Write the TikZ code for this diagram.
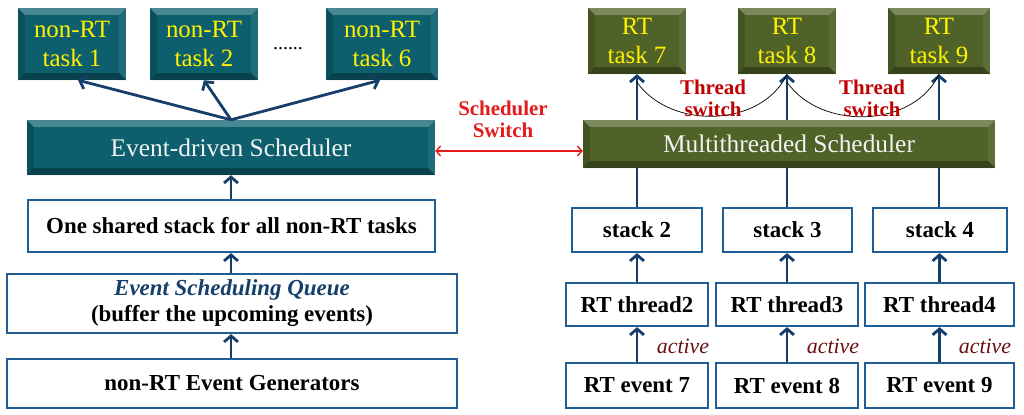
\documentclass[tikz,border=0pt]{standalone}
\usepackage{fontspec}
\setmainfont{Liberation Serif}
\usepackage{tikz}
\usetikzlibrary{arrows.meta}
\definecolor{tealColor}{HTML}{0D5F6E}
\definecolor{greenColor}{HTML}{4F6228}
\definecolor{frameColor}{HTML}{1F5F96}
\definecolor{arrowColor}{HTML}{163E6A}
\definecolor{switchColor}{HTML}{E31B1B}
\definecolor{threadColor}{HTML}{C00000}
\definecolor{activeColor}{HTML}{6B0F0F}

\begin{document}
\begin{tikzpicture}[x=1bp,y=-1bp]

          \tikzstyle{bevel} = [path picture={
            \coordinate (pa) at (path picture bounding box.north west);
            \coordinate (pb) at (path picture bounding box.north east);
            \coordinate (pc) at (path picture bounding box.south east);
            \coordinate (pd) at (path picture bounding box.south west);
            \fill[white,opacity=0.25] (pa) -- (pb) -- ([shift={(-7pt,-7pt)}]pb) -- ([shift={(7pt,-7pt)}]pa) -- cycle;
            \fill[black,opacity=0.15] (pa) -- ([shift={(7pt,-7pt)}]pa) -- ([shift={(7pt,7pt)}]pd) -- (pd) -- cycle;
            \fill[white,opacity=0.08] (pb) -- (pc) -- ([shift={(-7pt,7pt)}]pc) -- ([shift={(-7pt,-7pt)}]pb) -- cycle;
            \fill[black,opacity=0.3] (pd) -- ([shift={(7pt,7pt)}]pd) -- ([shift={(-7pt,7pt)}]pc) -- (pc) -- cycle;
          }];
          \tikzstyle{taskNode} = [bevel,inner sep=0pt,align=center,text=yellow,
            font=\fontsize{25}{29}\selectfont,minimum height=72bp];
          \tikzstyle{nonRTTask} = [taskNode,fill=tealColor,minimum width=108bp];
          \tikzstyle{RTTask} = [taskNode,fill=greenColor,minimum width=98bp,minimum height=66bp];
          \tikzstyle{schedNode} = [bevel,inner sep=0pt,text=white!95!black,
            font=\fontsize{25.5}{28}\selectfont];
          \tikzstyle{plainBox} = [draw=frameColor,line width=2.2bp,fill=white,inner sep=0pt,
            align=center,font=\bfseries\fontsize{23}{26}\selectfont];
          \tikzstyle{flowEdge} = [arrowColor,line width=2.8bp,-{Straight Barb[length=6pt,width=14pt]}];
          \tikzstyle{switchEdge} = [switchColor,line width=1.4bp,
            {Straight Barb[length=4.5pt,width=10pt]}-{Straight Barb[length=4.5pt,width=10pt]}];
          \tikzstyle{threadEdge} = [black,line width=0.7bp];
          \tikzstyle{activeLabel} = [activeColor,font=\itshape\fontsize{22}{24}\selectfont,inner sep=0pt];

          \useasboundingbox (0,0) rectangle (1024,414);

          % non-RT side
          \node[nonRTTask] (t1) at (72,44) {non-RT\\task 1};
          \node[nonRTTask] (t2) at (204,44) {non-RT\\task 2};
          \node[nonRTTask,minimum width=112bp] (t6) at (382,44) {non-RT\\task 6};
          \node[font=\fontsize{20}{20}\selectfont,inner sep=0pt] (dots) at (288,49) {......};
          \node[schedNode,fill=tealColor,minimum width=408bp,minimum height=55bp] (evs) at (231,147.5) {Event-driven Scheduler};
          \node[plainBox,minimum width=407bp,minimum height=52bp] (shared) at (231.5,226) {One shared stack for all non-RT tasks};
          \node[plainBox,minimum width=450bp,minimum height=59bp] (queue) at (232,303.5)
            {{\color{arrowColor}\itshape Event Scheduling Queue}\\(buffer the upcoming events)};
          \node[plainBox,minimum width=450bp,minimum height=49bp] (gen) at (232,383.5) {non-RT Event Generators};

          \draw[flowEdge] ([xshift=0bp]evs.north) -- ([xshift=6bp]t1.south);
          \draw[flowEdge] (evs.north) -- (t2.south);
          \draw[flowEdge] (evs.north) -- ([xshift=-2bp]t6.south);
          \draw[flowEdge] (shared.north -| evs.south) -- (evs.south);
          \draw[flowEdge] (queue.north -| evs.south) -- (shared.south -| evs.south);
          \draw[flowEdge] (gen.north -| evs.south) -- (queue.south -| evs.south);

          % RT side
          \node[RTTask] (r7) at (637,41) {RT\\task 7};
          \node[RTTask] (r8) at (787,41) {RT\\task 8};
          \node[RTTask,minimum width=102bp] (r9) at (939,41) {RT\\task 9};
          \node[plainBox,minimum width=130bp,minimum height=44bp] (s2) at (637,230) {stack 2};
          \node[plainBox,minimum width=129bp,minimum height=44bp] (s3) at (787.5,230) {stack 3};
          \node[plainBox,minimum width=134bp,minimum height=44bp] (s4) at (940,230) {stack 4};
          \node[plainBox,minimum width=142bp,minimum height=43bp] (th2) at (637,304.5) {RT thread2};
          \node[plainBox,minimum width=142bp,minimum height=43bp] (th3) at (787,304.5) {RT thread3};
          \node[plainBox,minimum width=149bp,minimum height=43bp] (th4) at (939.5,304.5) {RT thread4};
          \node[plainBox,minimum width=142bp,minimum height=45bp] (e7) at (637,385.5) {RT event 7};
          \node[plainBox,minimum width=142bp,minimum height=45bp] (e8) at (787,385.5) {RT event 8};
          \node[plainBox,minimum width=149bp,minimum height=45bp] (e9) at (939.5,385.5) {RT event 9};

          \draw[flowEdge] (s2.north) -- (s2.north |- r7.south);
          \draw[flowEdge] (s3.north -| r8.south) -- (r8.south);
          \draw[flowEdge] (s4.north -| r9.south) -- (r9.south);
          \draw[flowEdge] (th2.north) -- (s2.south);
          \draw[flowEdge] (th3.north) -- (th3.north |- s3.south);
          \draw[flowEdge] (th4.north) -- (th4.north |- s4.south);
          \draw[flowEdge] (e7.north) -- (th2.south);
          \draw[flowEdge] (e8.north) -- (th3.south);
          \draw[flowEdge] (e9.north) -- (th4.south);

          \node[schedNode,fill=greenColor,minimum width=412bp,minimum height=48bp] (mts) at (789,144) {Multithreaded Scheduler};

          \draw[threadEdge] ([yshift=-8bp]s2.north |- r7.south) to[out=-55,in=-115] (r8.south);
          \draw[threadEdge] ([yshift=-8bp]r8.south) to[out=-55,in=-115] (r9.south);
          \node[threadColor,align=center,font=\bfseries\fontsize{21}{22}\selectfont,inner sep=0pt] (ts1) at (713,98) {Thread\\switch};
          \node[threadColor,align=center,font=\bfseries\fontsize{21}{22}\selectfont,inner sep=0pt] (ts2) at (872,98) {Thread\\switch};

          \node[activeLabel] (a7) at (683,346) {active};
          \node[activeLabel] (a8) at (833,346) {active};
          \node[activeLabel] (a9) at (985,346) {active};

          % scheduler switch
          \draw[switchEdge] ([yshift=-3.5bp]evs.east) -- ([yshift=-3.5bp]evs.east -| mts.west);
          \node[switchColor,align=center,font=\bfseries\fontsize{21}{22}\selectfont,inner sep=0pt] (sw) at (503,119) {Scheduler\\Switch};
        \end{tikzpicture}
\end{document}
